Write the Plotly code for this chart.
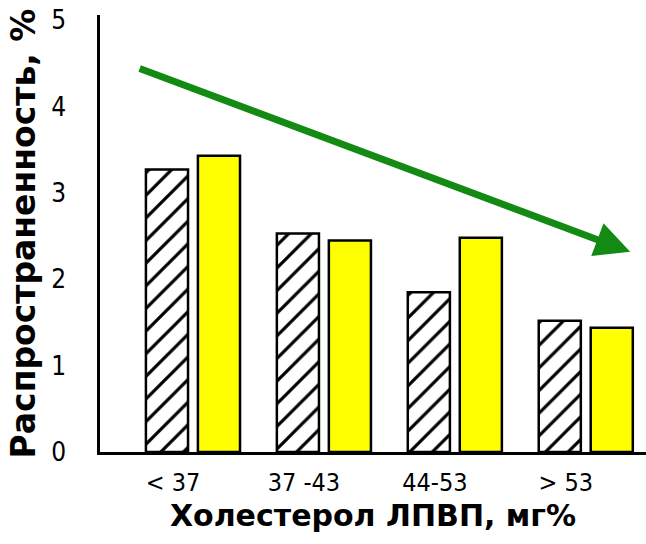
import plotly.graph_objects as go

categories = ["< 37", "37 -43", "44-53", "> 53"]
series_hatched = [3.27, 2.53, 1.85, 1.52]
series_yellow = [3.43, 2.45, 2.48, 1.44]
y_ticks = [0, 1, 2, 3, 4, 5]

narrow = "DejaVu Sans Condensed, Liberation Sans Narrow, sans-serif"
boldf = "DejaVu Sans, Arial Black, sans-serif"

fig = go.Figure()
fig.add_trace(go.Bar(
    x=categories, y=series_hatched,
    marker=dict(color="white", line=dict(color="black", width=2.5),
                pattern=dict(shape="/", fgcolor="black", bgcolor="white",
                             fgopacity=1, fillmode="replace",
                             size=16, solidity=0.2)),
    showlegend=False,
))
fig.add_trace(go.Bar(
    x=categories, y=series_yellow,
    marker=dict(color="#FFFF00", line=dict(color="black", width=2.5)),
    showlegend=False,
))

fig.add_annotation(
    x=0.971, y=0.458, xref="paper", yref="paper",
    ax=-492, ay=-184, axref="pixel", ayref="pixel",
    text="", showarrow=True, arrowhead=2, arrowsize=1.0,
    arrowwidth=7, arrowcolor="#138a13",
)

fig.update_layout(
    width=646, height=544,
    margin=dict(l=100, r=0, t=15, b=92),
    paper_bgcolor="white", plot_bgcolor="white",
    barmode="group", bargap=0.206, bargroupgap=0.19,
    font=dict(family=narrow, color="black"),
)
fig.update_xaxes(
    range=[-0.71, 3.46], showline=True, linecolor="black", linewidth=2.5,
    showgrid=False, ticks="", tickfont=dict(family=narrow, size=25, color="black"),
    ticklabelshift=-20, ticklabelstandoff=6, automargin=False,
    title=dict(text="<b>Холестерол ЛПВП, мг%</b>",
               font=dict(family=boldf, size=30, color="black"), standoff=10),
)
fig.update_yaxes(
    range=[0, 5.06], tickvals=y_ticks, showline=True, linecolor="black",
    linewidth=2.5, showgrid=False, ticks="", zeroline=False,
    tickfont=dict(family=narrow, size=26, color="black"),
    ticklabelstandoff=26, automargin=False,
    title=dict(text="<b>Распространенность, %</b>",
               font=dict(family=boldf, size=33, color="black"), standoff=6),
)

fig.write_html("out.html", config={"displayModeBar": False},
               post_script="document.body.style.margin='0';document.body.style.padding='0';")
